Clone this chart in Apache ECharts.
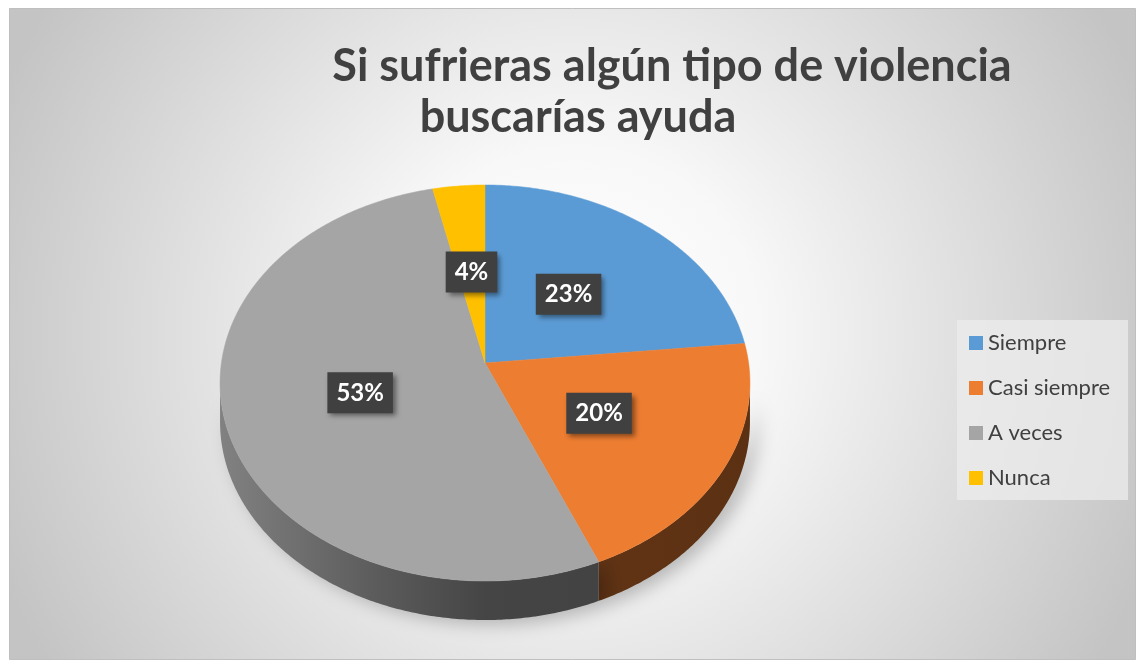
<!DOCTYPE html>
<html>
<head>
<meta charset="utf-8">
<script src="https://cdn.jsdelivr.net/npm/echarts@6/dist/echarts.min.js"></script>
<style>
  html, body { margin: 0; padding: 0; background: #fff; }
  #chart { width: 1137px; height: 661px; }
</style>
</head>
<body>
<div id="chart"></div>
<script>
const titleLines = ['Si sufrieras algún tipo de violencia', 'buscarías ayuda'];
const categories = ['Siempre', 'Casi siempre', 'A veces', 'Nunca'];
const values = [23.4, 20.2, 52.9, 3.5];
const colors = ['#5B9BD5', '#ED7D31', '#A5A5A5', '#FFC000'];

// 3d pie geometry (perspective tilted disc)
const CX = 485, CY = 363;
const RX = 263.6, RY = 196, K = 0.101;
const DEPTH = 39;
const FRONT0 = Math.acos(-K), FRONT1 = 2 * Math.PI - Math.acos(-K);

const total = values.reduce((s, v) => s + v, 0);
const cum = [0];
values.forEach((v, i) => cum.push(cum[i] + v));

function project(theta, r) {
  const u = r * Math.sin(theta), v = -r * Math.cos(theta);
  const d = 1 - K * v;
  return [CX + RX * u / d, CY + RY * v / d];
}

function shade(hex, f) {
  const n = parseInt(hex.slice(1), 16);
  const c = [(n >> 16) & 255, (n >> 8) & 255, n & 255].map(x => Math.round(x * f));
  return 'rgb(' + c.join(',') + ')';
}

function arc(a0, a1) {
  const pts = [];
  const steps = Math.max(2, Math.ceil((a1 - a0) / 0.01));
  for (let s = 0; s <= steps; s++) pts.push(project(a0 + (a1 - a0) * s / steps, 1));
  return pts;
}

const renderSlice = (params, api) => {
  const i = params.seriesIndex;
  const a0 = cum[i] / total * 2 * Math.PI;
  const a1 = cum[i + 1] / total * 2 * Math.PI;
  const color = colors[i];
  const children = [];

  const w0 = Math.max(a0, FRONT0), w1 = Math.min(a1, FRONT1);
  if (w1 > w0) {
    const top = arc(w0, w1);
    const bottom = top.map(p => [p[0], p[1] + DEPTH]).reverse();
    children.push({
      type: 'polygon',
      z2: 1,
      shape: { points: top.concat(bottom) },
      style: {
        fill: new echarts.graphic.LinearGradient(CX - RX, 0, CX + RX, 0, [
          { offset: 0, color: shade(color, 0.78) },
          { offset: 0.3, color: shade(color, 0.55) },
          { offset: 0.5, color: shade(color, 0.42) },
          { offset: 1, color: shade(color, 0.39) }
        ], true),
        shadowBlur: 18,
        shadowOffsetX: 8,
        shadowOffsetY: 4,
        shadowColor: 'rgba(0,0,0,0.25)'
      }
    });
  }

  children.push({
    type: 'polygon',
    z2: 5,
    shape: { points: [project(0, 0)].concat(arc(a0, a1)) },
    style: { fill: color, stroke: color, lineWidth: 0.5 }
  });

  const p = project((a0 + a1) / 2, 0.49);
  children.push({
    type: 'text',
    z2: 10,
    x: p[0],
    y: p[1],
    style: {
      text: Math.round(api.value(0) / total * 100) + '%',
      font: 'bold 24px Lato',
      fill: '#ffffff',
      align: 'center',
      verticalAlign: 'middle',
      lineHeight: 28,
      padding: [6, 9, 7, 9],
      backgroundColor: '#404040',
      shadowColor: 'rgba(0,0,0,0.45)',
      shadowBlur: 5,
      shadowOffsetX: 3,
      shadowOffsetY: 3
    }
  });

  return { type: 'group', children };
};

const chart = echarts.init(document.getElementById('chart'));

const option = {
  animation: false,
  color: colors,
  graphic: [{
    type: 'rect',
    z: -10,
    shape: { x: 9.5, y: 8.5, width: 1126, height: 651 },
    style: {
      fill: new echarts.graphic.RadialGradient(0.5, 0.5, 0.95, [
        { offset: 0, color: '#ffffff' },
        { offset: 0.3, color: '#f8f8f8' },
        { offset: 1, color: '#c4c4c4' }
      ]),
      stroke: '#bfbfbf',
      lineWidth: 1
    }
  }],
  title: [
    {
      text: titleLines[0],
      left: 667,
      top: 39,
      textAlign: 'center',
      textStyle: { fontFamily: 'Lato', fontWeight: 'bold', fontSize: 45, color: '#404040' }
    },
    {
      text: titleLines[1],
      left: 573,
      top: 90,
      textAlign: 'center',
      textStyle: { fontFamily: 'Lato', fontWeight: 'bold', fontSize: 45, color: '#404040' }
    }
  ],
  legend: {
    orient: 'vertical',
    left: 957,
    top: 320,
    padding: [12, 18, 11, 12],
    backgroundColor: 'rgba(236,236,236,0.75)',
    itemWidth: 14,
    itemHeight: 14,
    itemGap: 23,
    icon: 'rect',
    data: categories,
    textStyle: { fontFamily: 'Lato', fontSize: 22, color: '#404040' }
  },
  series: categories.map((name, i) => ({
    type: 'custom',
    name: name,
    coordinateSystem: 'none',
    itemStyle: { color: colors[i] },
    renderItem: renderSlice,
    data: [[values[i]]]
  }))
};

chart.setOption(option);
</script>
</body>
</html>
